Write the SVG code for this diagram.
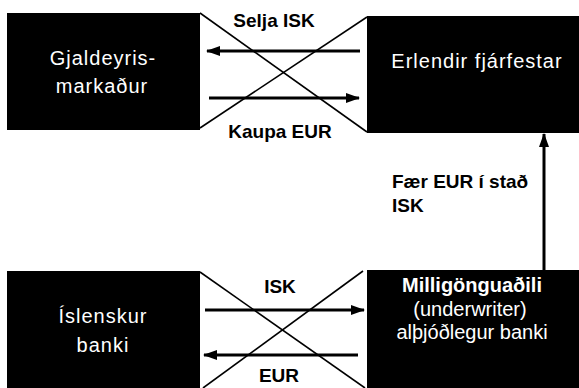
<svg xmlns="http://www.w3.org/2000/svg" width="579" height="388" viewBox="0 0 579 388">
<defs>
<marker id="ah" viewBox="0 0 14 10" refX="13" refY="5" markerWidth="14" markerHeight="10" markerUnits="userSpaceOnUse" orient="auto">
<path d="M0,0 L14,5 L0,10 Z" fill="#000"/>
</marker>
<style>
.box{fill:#000}
.bt{fill:#fff;font-family:"Liberation Sans",Arial,sans-serif;font-size:20px;text-anchor:middle}
.sp{letter-spacing:1px}
.lb{fill:#000;font-family:"Liberation Sans",Arial,sans-serif;font-weight:bold;font-size:19px}
.x{stroke:#000;stroke-width:1.6;fill:none}
.ar{stroke:#000;stroke-width:3;fill:none;marker-end:url(#ah)}
</style>
</defs>
<rect width="579" height="388" fill="#fff"/>
<g id="connectors">
<line class="x" x1="200" y1="13" x2="367" y2="132"/>
<line class="x" x1="367" y1="17" x2="200" y2="128"/>
<line class="x" x1="200" y1="272" x2="365" y2="388"/>
<line class="x" x1="363" y1="271" x2="203" y2="388"/>
<line class="ar" x1="360" y1="51" x2="207" y2="51"/>
<line class="ar" x1="209" y1="98" x2="359" y2="98"/>
<line class="ar" x1="205" y1="310" x2="364" y2="310"/>
<line class="ar" x1="358" y1="355" x2="204" y2="355"/>
<line class="ar" x1="544" y1="270" x2="544" y2="134"/>
<text class="lb" x="274" y="27" text-anchor="middle">Selja ISK</text>
<text class="lb" x="280" y="138" text-anchor="middle">Kaupa EUR</text>
<text class="lb" x="280" y="293" text-anchor="middle" font-size="18">ISK</text>
<text class="lb" x="279" y="382" text-anchor="middle" font-size="17">EUR</text>
<text class="lb" x="392" y="188">Fær EUR í stað</text>
<text class="lb" x="392" y="212">ISK</text>
</g>
<g id="gjaldeyrismarkadur">
<rect class="box" x="7" y="13" width="193" height="117"/>
<text class="bt sp" x="103" y="65">Gjaldeyris-</text>
<text class="bt sp" x="102" y="93">markaður</text>
</g>
<g id="erlendir">
<rect class="box" x="367" y="16" width="212" height="117"/>
<text class="bt sp" x="477" y="68">Erlendir fjárfestar</text>
</g>
<g id="islenskur">
<rect class="box" x="7" y="271" width="193" height="117"/>
<text class="bt sp" x="103" y="323">Íslenskur</text>
<text class="bt sp" x="103" y="352">banki</text>
</g>
<g id="milligonguadili">
<rect class="box" x="367" y="270" width="212" height="118"/>
<text class="bt" x="472" y="292" font-weight="bold">Milligönguaðili</text>
<text class="bt" x="470" y="316">(underwriter)</text>
<text class="bt" x="472" y="339">alþjóðlegur banki</text>
</g>
</svg>
